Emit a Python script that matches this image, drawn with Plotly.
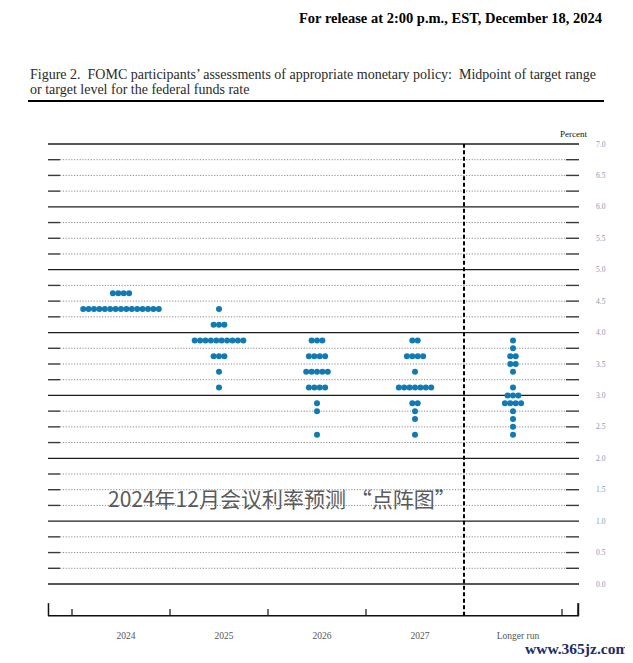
import plotly.graph_objects as go

# ---------------- data ----------------
categories = ["2024", "2025", "2026", "2027", "Longer run"]

rates_2024 = [4.625, 4.375]
counts_2024 = [4, 15]

rates_2025 = [4.375, 4.125, 3.875, 3.625, 3.375, 3.125]
counts_2025 = [1, 3, 10, 3, 1, 1]

rates_2026 = [3.875, 3.625, 3.375, 3.125, 2.875, 2.75, 2.375]
counts_2026 = [3, 4, 5, 4, 1, 1, 1]

rates_2027 = [3.875, 3.625, 3.375, 3.125, 2.875, 2.75, 2.625, 2.375]
counts_2027 = [2, 4, 1, 7, 2, 1, 1, 1]

rates_longer = [3.875, 3.75, 3.625, 3.5, 3.375, 3.125, 3.0, 2.875, 2.75, 2.625, 2.5, 2.375]
counts_longer = [1, 1, 2, 2, 1, 1, 3, 4, 1, 1, 1, 1]

y_tick_vals = [0.0, 0.5, 1.0, 1.5, 2.0, 2.5, 3.0, 3.5, 4.0, 4.5, 5.0, 5.5, 6.0, 6.5, 7.0]
y_tick_labels = ["0.0", "0.5", "1.0", "1.5", "2.0", "2.5", "3.0", "3.5",
                 "4.0", "4.5", "5.0", "5.5", "6.0", "6.5", "7.0"]

columns = [(rates_2024, counts_2024), (rates_2025, counts_2025),
           (rates_2026, counts_2026), (rates_2027, counts_2027),
           (rates_longer, counts_longer)]

# ---------------- geometry ----------------
# the page body adds an 8px margin, so the figure is 8px smaller than the window
W, H = 625, 655
L, R, T, B = 37, 51, 130, 45
X_MIN, X_MAX = -0.7755, 4.7041
Y_MIN, Y_MAX = -0.5409, 7.0951
DOT_SP = 0.0551           # horizontal spacing between stacked dots (x units)
LABEL_SHIFT = 0.05        # category labels sit slightly right of the dot columns

# helpers taking window (screenshot) pixel coordinates -> paper coordinates
def px(x):
    return (x - 8 - L) / (W - L - R)

def py(y):
    return (H - B - (y - 8)) / (H - T - B)

# ---------------- dots ----------------
xs, ys = [], []
for ci, (rates, counts) in enumerate(columns):
    for r, n in zip(rates, counts):
        for k in range(n):
            xs.append(ci + (k - (n - 1) / 2) * DOT_SP)
            ys.append(r)

fig = go.Figure()
fig.add_trace(go.Scatter(
    x=xs, y=ys, mode="markers",
    marker=dict(size=6, color="#0f7ab3", line=dict(width=0)),
    hoverinfo="y", showlegend=False, cliponaxis=False,
))

# ---------------- grid lines ----------------
shapes = []
GL, GR = -0.745, 4.6735          # extent of horizontal rules
STUB_L, STUB_R = -0.622, 4.541   # solid end-stubs of the minor rules
for i in range(29):
    v = i * 0.25
    if i % 4 == 0:
        shapes.append(dict(type="line", xref="x", yref="y", x0=GL, x1=GR, y0=v, y1=v,
                           line=dict(color="#1c1c1c", width=1.3), layer="below"))
    else:
        shapes.append(dict(type="line", xref="x", yref="y", x0=STUB_L, x1=STUB_R, y0=v, y1=v,
                           line=dict(color="#8a8a8a", width=1, dash="1.2px,1.6px"), layer="below"))
        shapes.append(dict(type="line", xref="x", yref="y", x0=GL, x1=STUB_L, y0=v, y1=v,
                           line=dict(color="#3a3a3a", width=1.4), layer="below"))
        shapes.append(dict(type="line", xref="x", yref="y", x0=STUB_R, x1=GR, y0=v, y1=v,
                           line=dict(color="#3a3a3a", width=1.4), layer="below"))

# bottom axis line and ticks
AX_Y = -0.5043
shapes.append(dict(type="line", xref="x", yref="y", x0=GL, x1=GR, y0=AX_Y, y1=AX_Y,
                   line=dict(color="#111", width=1.5)))
for tx in [-0.5, 0.5, 1.5, 2.5, 4.5]:
    shapes.append(dict(type="line", xref="x", yref="y", x0=tx, x1=tx, y0=AX_Y, y1=AX_Y + 0.107,
                       line=dict(color="#222", width=1.3)))
shapes.append(dict(type="line", xref="x", yref="y", x0=GL + 0.005, x1=GL + 0.005, y0=AX_Y, y1=AX_Y + 0.2,
                   line=dict(color="#111", width=1.5)))
shapes.append(dict(type="line", xref="x", yref="y", x0=GR - 0.008, x1=GR - 0.008, y0=AX_Y, y1=AX_Y + 0.2,
                   line=dict(color="#111", width=2)))
# dashed separator before "Longer run"
shapes.append(dict(type="line", xref="x", yref="y", x0=3.5, x1=3.5, y0=AX_Y, y1=7.0,
                   line=dict(color="#000", width=2, dash="4px,2.5px")))

# rule under the title
shapes.append(dict(type="line", xref="paper", yref="paper", x0=px(28), x1=px(604),
                   y0=py(101), y1=py(101), line=dict(color="#000", width=2)))

# ---------------- text ----------------
annotations = [
    dict(text="<b>For release at 2:00 p.m., EST, December 18, 2024</b>",
         x=px(604), y=py(18), xref="paper", yref="paper", xanchor="right", yanchor="middle",
         showarrow=False, font=dict(family="Liberation Serif", size=14.5, color="#000")),
    dict(text="Figure 2.  FOMC participants’ assessments of appropriate monetary policy:  Midpoint of target range",
         x=px(28), y=py(75), xref="paper", yref="paper", xanchor="left", yanchor="middle",
         showarrow=False, font=dict(family="Liberation Serif", size=14, color="#2a2a2a")),
    dict(text="or target level for the federal funds rate",
         x=px(28), y=py(89), xref="paper", yref="paper", xanchor="left", yanchor="middle",
         showarrow=False, font=dict(family="Liberation Serif", size=14, color="#2a2a2a")),
    dict(text="Percent", x=px(573), y=py(134), xref="paper", yref="paper",
         xanchor="center", yanchor="middle", showarrow=False,
         font=dict(family="Liberation Serif", size=9, color="#111")),
    dict(text="2024年12月会议利率预测 “点阵图”", x=px(282), y=py(498), xref="paper", yref="paper",
         xanchor="center", yanchor="middle", showarrow=False,
         font=dict(family="Noto Sans CJK SC", size=21, color="#5a5a5a")),
    dict(text="<b>www.365jz.com</b>", x=px(630), y=py(648), xref="paper", yref="paper",
         xanchor="right", yanchor="middle", showarrow=False,
         font=dict(family="Liberation Serif", size=15.5, color="#1b2d6b")),
]

fig.update_layout(
    width=W, height=H,
    margin=dict(l=L, r=R, t=T, b=B, pad=0),
    paper_bgcolor="white", plot_bgcolor="white",
    shapes=shapes, annotations=annotations,
    xaxis=dict(range=[X_MIN, X_MAX], showgrid=False, zeroline=False, showline=False,
               tickmode="array", tickvals=[i + LABEL_SHIFT for i in range(len(categories))],
               ticktext=categories, ticks="", ticklabelstandoff=10,
               tickfont=dict(family="Liberation Serif", size=9.5, color="#555")),
    yaxis=dict(range=[Y_MIN, Y_MAX], side="right", showgrid=False, zeroline=False, showline=False,
               tickmode="array", tickvals=y_tick_vals, ticktext=y_tick_labels,
               ticks="", ticklabelstandoff=13,
               tickfont=dict(family="Liberation Serif", size=7.5, color="#8495b8")),
)

fig.write_html("out.html")
